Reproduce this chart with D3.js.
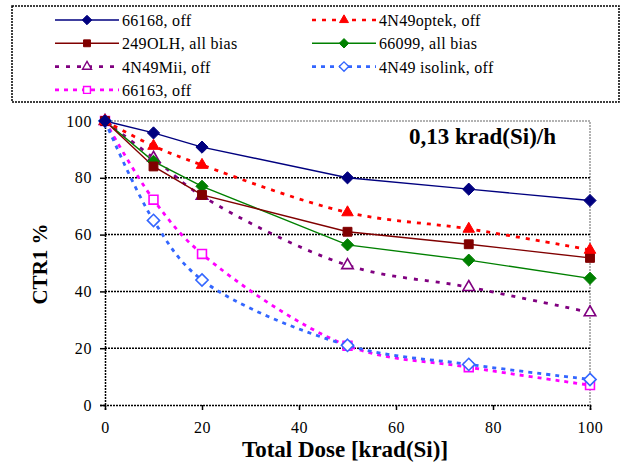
<!DOCTYPE html>
<html>
<head>
<meta charset="utf-8">
<script src="https://cdn.jsdelivr.net/npm/d3@7"></script>
<style>
  body { margin: 0; background: #fff; }
</style>
</head>
<body>
<svg width="628" height="464" font-family="Liberation Serif"></svg>
<script>
var doses = [0, 10, 20, 50, 75, 100];

var s66168 = [100, 95.8, 90.8, 80, 76, 72];
var s4N49optek = [100, 91.2, 84.5, 67.8, 62, 54.6];
var s249OLH = [100, 84, 74, 61, 56.6, 51.8];
var s66099 = [100, 85.8, 77, 56.4, 51, 44.6];
var s4N49Mii = [100, 87, 73.6, 49.2, 41.5, 32.6];
var s4N49iso = [100, 65, 44, 21, 14.3, 9];
var s66163 = [100, 72.3, 53.2, 20.9, 13.3, 7];

var xTicks = [0, 20, 40, 60, 80, 100];
var yTicks = [0, 20, 40, 60, 80, 100];

var FONT = "Liberation Serif";

var series = [
  {name: "66168, off", vals: s66168, color: "#00007f", dash: null, marker: "diamond", fill: true},
  {name: "4N49optek, off", vals: s4N49optek, color: "#ff0000", dash: "4,6", marker: "triangle", fill: true},
  {name: "249OLH, all bias", vals: s249OLH, color: "#800000", dash: null, marker: "square", fill: true},
  {name: "66099, all bias", vals: s66099, color: "#008000", dash: null, marker: "diamond", fill: true},
  {name: "4N49Mii, off", vals: s4N49Mii, color: "#800080", dash: "4,7", marker: "triangle", fill: false},
  {name: "4N49 isolink, off", vals: s4N49iso, color: "#3366ff", dash: "4,5", marker: "diamond", fill: false},
  {name: "66163, off", vals: s66163, color: "#ff00ff", dash: "4,5", marker: "square", fill: false}
];

var svg = d3.select("svg");
var x = d3.scaleLinear().domain([0, 100]).range([105, 590]);
var y = d3.scaleLinear().domain([0, 100]).range([405, 121]);

// plot border (grey, top and right)
svg.append("path")
  .attr("d", "M" + x(0) + "," + y(100) + "H" + x(100) + "V" + y(0))
  .attr("fill", "none").attr("stroke", "#999").attr("stroke-width", 1.5)
  .attr("stroke-dasharray", "2,1");

// gridlines
svg.append("g").selectAll("line")
  .data(yTicks.filter(function(d) { return d > 0 && d < 100; }))
  .enter().append("line")
  .attr("x1", x(0)).attr("x2", x(100))
  .attr("y1", function(d) { return y(d); }).attr("y2", function(d) { return y(d); })
  .attr("stroke", "#000").attr("stroke-width", 1.5).attr("stroke-dasharray", "2,1");

// axes
var xAxis = svg.append("g")
  .attr("transform", "translate(0," + y(0) + ")")
  .call(d3.axisBottom(x).tickValues(xTicks).tickSize(5).tickPadding(12));
var yAxis = svg.append("g")
  .attr("transform", "translate(" + x(0) + ",0)")
  .call(d3.axisLeft(y).tickValues(yTicks).tickSize(5).tickPadding(8));
[xAxis, yAxis].forEach(function(a) {
  a.attr("font-family", FONT).attr("font-size", 16);
  a.select(".domain").attr("stroke-width", 1.5).attr("stroke-dasharray", "2,1");
  a.selectAll(".tick line").attr("stroke-width", 1.5);
  a.selectAll("text").attr("font-size", 16).attr("letter-spacing", 0.6).style("font-family", FONT);
});

// lines
var line = d3.line()
  .x(function(d, i) { return x(doses[i]); })
  .y(function(d) { return y(d); });

function markerPath(type, k) {
  k = k || 1;
  if (type === "diamond") return d3.symbol().type(d3.symbolDiamond2).size(95 * k)();
  if (type === "triangle") return d3.symbol().type(d3.symbolTriangle2).size(95 * k)();
  return d3.symbol().type(d3.symbolSquare2).size(100 * k)();
}

series.slice().reverse().forEach(function(s) {
  var curve = s.dash ? d3.curveCatmullRom : d3.curveLinear;
  svg.append("path")
    .datum(s.vals)
    .attr("fill", "none")
    .attr("stroke", s.color)
    .attr("stroke-width", s.dash ? 2.8 : 1.4)
    .attr("stroke-dasharray", s.dash)
    .attr("d", line.curve(curve));
});

series.slice().reverse().forEach(function(s) {
  svg.append("g").selectAll("path")
    .data(s.vals)
    .enter().append("path")
    .attr("transform", function(d, i) { return "translate(" + x(doses[i]) + "," + y(d) + ")"; })
    .attr("d", markerPath(s.marker))
    .attr("fill", s.fill ? s.color : "#fff")
    .attr("stroke", s.color)
    .attr("stroke-width", s.fill ? 1 : 1.6);
});

// titles
svg.append("text")
  .attr("x", 345).attr("y", 457)
  .attr("text-anchor", "middle")
  .attr("font-family", FONT)
  .attr("font-size", 23).attr("font-weight", "bold")
  .text("Total Dose [krad(Si)]");
svg.append("text")
  .attr("transform", "translate(47,264) rotate(-90)")
  .attr("text-anchor", "middle")
  .attr("font-family", FONT)
  .attr("font-size", 21).attr("font-weight", "bold")
  .text("CTR1 %");
svg.append("text")
  .attr("x", 556).attr("y", 144)
  .attr("text-anchor", "end")
  .attr("font-family", FONT)
  .attr("font-size", 23).attr("font-weight", "bold")
  .text("0,13 krad(Si)/h");

// legend
svg.append("rect")
  .attr("x", 12).attr("y", 6).attr("width", 607).attr("height", 96)
  .attr("fill", "none").attr("stroke", "#000").attr("stroke-width", 1.5)
  .attr("stroke-dasharray", "2,1");

var leg = svg.append("g").selectAll("g")
  .data(series)
  .enter().append("g")
  .attr("transform", function(d, i) {
    return "translate(" + (i % 2 === 0 ? 55 : 312) + "," + (20 + Math.floor(i / 2) * 23.3) + ")";
  });
leg.append("line")
  .attr("x1", 0).attr("x2", 64).attr("y1", 0).attr("y2", 0)
  .attr("stroke", function(d) { return d.color; })
  .attr("stroke-width", function(d) { return d.dash ? 2.6 : 1.4; })
  .attr("stroke-dasharray", function(d) { return d.dash; });
leg.append("path")
  .attr("transform", "translate(32,0)")
  .attr("d", function(d) { return markerPath(d.marker, 0.6); })
  .attr("fill", function(d) { return d.fill ? d.color : "#fff"; })
  .attr("stroke", function(d) { return d.color; })
  .attr("stroke-width", function(d) { return d.fill ? 1 : 1.4; });
leg.append("text")
  .attr("x", 67).attr("y", 6)
  .attr("font-family", FONT)
  .attr("font-size", 16)
  .attr("letter-spacing", 0.3)
  .text(function(d) { return d.name; });
</script>
</body>
</html>
